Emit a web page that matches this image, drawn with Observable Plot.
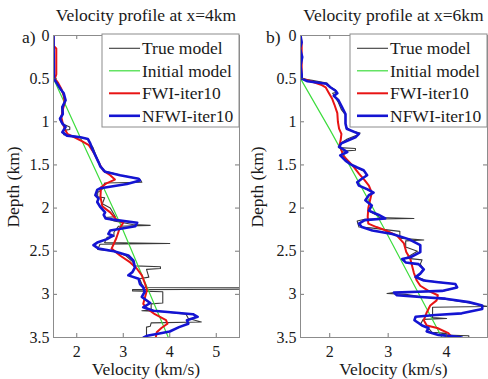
<!DOCTYPE html>
<html><head><meta charset="utf-8">
<script src="https://cdn.jsdelivr.net/npm/d3@7"></script>
<script src="https://cdn.jsdelivr.net/npm/@observablehq/plot@0.6"></script>
<style>
body{margin:0;background:#fff;}
#wrap{position:relative;width:488px;height:379px;background:#fff;}
#wrap svg{position:absolute;top:0;}
#wrap svg text{font-family:"Liberation Serif","DejaVu Serif",serif !important;}
</style></head><body><div id="wrap"></div>
<script>
// ---- data: [depth (km), velocity (km/s)] ----
const seriesNames = ["True model", "Initial model", "FWI-iter10", "NFWI-iter10"];
const seriesColors = ["#3a3a3a", "#3ddc3d", "#e81414", "#1414d2"];
const seriesWidths = [1.1, 1.2, 2, 2.6];

const depthTicks = [0, 0.5, 1, 1.5, 2, 2.5, 3, 3.5];
const velTicksA = [2, 3, 4, 5];
const velTicksB = [2, 3, 4];

// panel a) x = 4 km
const trueA = [[0,1.5],[0.5,1.5],[0.55,1.58],[0.62,1.65],[0.68,1.72],[0.75,1.76],[0.83,1.68],[0.92,1.68],[0.97,1.63],[1.02,1.68],[1.06,1.85],[1.09,1.85],[1.1,1.72],[1.15,1.72],[1.17,2.0],[1.2,2.25],[1.26,2.3],[1.3,2.35],[1.37,2.4],[1.45,2.46],[1.52,2.52],[1.57,2.6],[1.62,2.95],[1.66,3.35],[1.70,3.4],[1.71,2.6],[1.78,2.55],[1.82,2.45],[1.87,2.45],[1.88,2.6],[1.95,2.55],[2.0,2.72],[2.1,2.83],[2.11,2.6],[2.15,2.8],[2.19,3.2],[2.2,3.58],[2.21,2.9],[2.28,2.8],[2.33,2.8],[2.34,2.65],[2.4,2.6],[2.41,4.0],[2.42,2.5],[2.48,2.45],[2.5,2.8],[2.55,3.05],[2.62,3.2],[2.67,3.25],[2.68,3.8],[2.70,3.8],[2.71,3.5],[2.8,3.55],[2.82,3.35],[2.88,3.4],[2.92,3.45],[2.925,6],[2.94,6],[2.945,3.2],[2.96,3.2],[2.97,3.85],[3.1,3.85],[3.11,3.6],[3.18,3.6],[3.19,3.4],[3.2,3.85],[3.23,4.35],[3.28,4.4],[3.32,4.68],[3.33,3.6],[3.37,3.58],[3.38,3.5],[3.5,3.5]];
const initA = [[0,1.5],[0.5,1.5],[1.15,2.05],[2.2,2.95],[3.5,3.97]];
const fwiA = [[0,1.5],[0.12,1.5],[0.15,1.56],[0.45,1.56],[0.5,1.53],[0.55,1.6],[0.62,1.67],[0.7,1.72],[0.78,1.74],[0.86,1.7],[0.95,1.67],[1.02,1.7],[1.08,1.74],[1.14,1.8],[1.18,1.95],[1.22,2.1],[1.27,2.26],[1.37,2.38],[1.5,2.5],[1.57,2.58],[1.62,2.72],[1.67,2.82],[1.71,2.65],[1.76,2.52],[1.87,2.51],[1.98,2.55],[2.05,2.72],[2.13,2.85],[2.17,3.0],[2.24,2.92],[2.35,2.85],[2.47,2.75],[2.55,2.93],[2.63,3.15],[2.70,3.29],[2.78,3.40],[2.88,3.47],[2.95,3.51],[3.03,3.47],[3.11,3.43],[3.16,3.5],[3.23,3.68],[3.30,3.92],[3.34,3.95],[3.39,3.82],[3.44,3.72],[3.5,3.7]];
const nfwiA = [[0,1.5],[0.5,1.51],[0.56,1.58],[0.62,1.65],[0.67,1.72],[0.75,1.76],[0.83,1.69],[0.91,1.7],[0.965,1.64],[1.02,1.69],[1.06,1.76],[1.12,1.69],[1.16,1.79],[1.18,2.08],[1.20,2.24],[1.25,2.29],[1.31,2.33],[1.39,2.40],[1.47,2.47],[1.52,2.51],[1.58,2.61],[1.62,2.93],[1.66,3.33],[1.68,3.36],[1.72,3.08],[1.77,2.51],[1.79,2.44],[1.85,2.40],[1.89,2.47],[1.93,2.44],[1.99,2.51],[2.05,2.61],[2.08,2.58],[2.12,2.62],[2.14,2.86],[2.17,3.30],[2.21,3.26],[2.26,2.72],[2.30,2.68],[2.32,2.78],[2.36,2.65],[2.40,2.44],[2.43,2.36],[2.47,2.47],[2.50,2.8],[2.55,3.11],[2.61,3.22],[2.69,3.25],[2.74,3.2],[2.78,3.11],[2.82,3.33],[2.88,3.36],[2.92,3.43],[2.97,3.46],[3.03,3.4],[3.10,3.58],[3.15,3.43],[3.19,3.65],[3.21,4.08],[3.23,4.5],[3.26,4.6],[3.30,4.37],[3.34,4.40],[3.38,4.2],[3.43,4.0],[3.46,3.72],[3.48,3.51],[3.5,3.44]];

// panel b) x = 6 km
const trueB = [[0,1.5],[0.5,1.5],[0.52,1.7],[0.55,1.95],[0.6,2.02],[0.63,2.1],[0.66,2.1],[0.67,2.05],[0.72,2.1],[0.78,2.15],[0.86,2.2],[0.92,2.27],[1.05,2.27],[1.1,2.35],[1.13,2.52],[1.16,2.45],[1.2,2.3],[1.26,2.16],[1.3,2.16],[1.31,2.44],[1.33,2.44],[1.34,2.22],[1.4,2.2],[1.46,2.28],[1.5,2.38],[1.54,2.48],[1.58,2.6],[1.62,2.64],[1.66,2.55],[1.70,2.47],[1.74,2.5],[1.79,2.65],[1.82,2.75],[1.85,2.68],[1.91,2.61],[1.97,2.72],[2.03,2.66],[2.08,2.8],[2.11,2.85],[2.12,3.44],[2.13,2.6],[2.15,2.47],[2.22,2.5],[2.23,2.7],[2.27,3.2],[2.35,3.2],[2.36,3.4],[2.37,3.61],[2.38,3.3],[2.45,3.3],[2.5,3.5],[2.58,3.3],[2.6,3.58],[2.65,3.55],[2.7,3.6],[2.76,3.55],[2.8,3.5],[2.84,3.65],[2.86,3.9],[2.88,4.15],[2.92,4.18],[2.96,3.95],[2.98,3.1],[2.99,2.98],[3.0,3.3],[3.03,3.6],[3.06,4.0],[3.1,4.4],[3.13,4.6],[3.14,4.72],[3.15,3.76],[3.27,3.76],[3.28,4.0],[3.29,3.6],[3.35,3.55],[3.4,3.7],[3.44,3.75],[3.45,4.0],[3.47,3.85],[3.48,4.38],[3.5,4.38]];
const initB = [[0,1.5],[0.5,1.5],[1.1,2.01],[2.26,2.95],[3.5,3.92]];
const fwiB = [[0,1.5],[0.1,1.52],[0.45,1.52],[0.5,1.53],[0.53,1.68],[0.57,1.85],[0.6,1.93],[0.66,1.98],[0.73,2.04],[0.8,2.08],[0.9,2.13],[1.0,2.14],[1.08,2.16],[1.14,2.2],[1.2,2.19],[1.27,2.17],[1.33,2.2],[1.4,2.24],[1.47,2.34],[1.53,2.42],[1.6,2.5],[1.68,2.6],[1.74,2.67],[1.82,2.72],[1.91,2.69],[2.0,2.66],[2.1,2.65],[2.18,2.66],[2.22,2.8],[2.26,2.96],[2.32,3.15],[2.41,3.27],[2.51,3.31],[2.59,3.38],[2.67,3.41],[2.75,3.44],[2.84,3.49],[2.90,3.55],[2.96,3.69],[3.01,3.85],[3.07,3.83],[3.13,3.72],[3.21,3.66],[3.3,3.61],[3.36,3.66],[3.39,3.84],[3.45,4.03],[3.5,4.09]];
const nfwiB = [[0,1.5],[0.08,1.52],[0.15,1.49],[0.25,1.53],[0.35,1.5],[0.45,1.52],[0.5,1.52],[0.53,1.62],[0.56,1.94],[0.6,2.01],[0.64,2.1],[0.67,2.13],[0.7,2.07],[0.75,2.15],[0.83,2.21],[0.91,2.27],[1.02,2.27],[1.08,2.29],[1.14,2.5],[1.18,2.44],[1.25,2.2],[1.29,2.16],[1.31,2.21],[1.35,2.3],[1.39,2.18],[1.45,2.27],[1.49,2.35],[1.53,2.47],[1.56,2.58],[1.62,2.64],[1.66,2.55],[1.70,2.47],[1.74,2.5],[1.78,2.64],[1.82,2.75],[1.85,2.67],[1.91,2.61],[1.97,2.72],[2.03,2.67],[2.08,2.84],[2.12,2.95],[2.14,2.6],[2.18,2.5],[2.22,2.55],[2.26,2.73],[2.30,3.07],[2.36,3.35],[2.43,3.55],[2.51,3.55],[2.57,3.38],[2.59,3.24],[2.63,3.3],[2.65,3.52],[2.71,3.61],[2.76,3.55],[2.80,3.47],[2.84,3.61],[2.86,3.86],[2.88,4.15],[2.92,4.18],[2.96,3.92],[2.97,3.5],[2.98,3.1],[3.01,3.15],[3.03,3.55],[3.05,3.98],[3.09,4.38],[3.13,4.61],[3.17,4.61],[3.22,4.26],[3.24,3.81],[3.26,3.47],[3.30,3.45],[3.36,3.58],[3.39,3.69],[3.43,3.66],[3.47,3.86],[3.49,4.15],[3.5,4.26]];

const FONT = "Liberation Serif";
const H = 379, MT = 35, MB = 42;

function panel({left, width, mL, mR, xDomain, xTicks, title, tag, series}) {
  const innerW = width - mL - mR, innerH = H - MT - MB;
  const rows = arr => arr.map(([d, v]) => ({depth: d, vel: v}));
  const tk = {stroke: "#555", strokeWidth: 0.8};
  const svg = Plot.plot({
    width, height: H, marginLeft: mL, marginRight: mR, marginTop: MT, marginBottom: MB,
    x: {domain: xDomain},
    y: {domain: [0, 3.5], reverse: true},
    style: {fontFamily: FONT, fontSize: "16px", color: "#1a1a1a", background: "white", overflow: "visible"},
    marks: [
      ...series.map((s, i) => Plot.line(rows(s), {x: "vel", y: "depth", stroke: seriesColors[i], strokeWidth: seriesWidths[i], clip: true})),
      Plot.tickY(depthTicks, {y: d => d, insetRight: innerW - 4, ...tk}),
      Plot.tickY(depthTicks, {y: d => d, insetLeft: innerW - 4, ...tk}),
      Plot.tickX(xTicks, {x: d => d, insetTop: innerH - 4, ...tk}),
      Plot.tickX(xTicks, {x: d => d, insetBottom: innerH - 4, ...tk}),
      Plot.frame({stroke: "#8c8c8c", strokeWidth: 1}),
      Plot.axisX({ticks: xTicks, tickSize: 0, tickPadding: 8, label: null, tickFormat: d => String(d)}),
      Plot.axisY({ticks: depthTicks, tickSize: 0, tickPadding: 4, label: null, tickFormat: d => String(d)})
    ]
  });
  svg.style.left = left + "px";
  const g = d3.select(svg).append("g").attr("fill", "#1a1a1a");
  const cx = mL + innerW / 2;
  const txt = (x, y, s, anchor) => g.append("text").attr("x", x).attr("y", y)
    .attr("text-anchor", anchor).attr("font-size", 17.5).text(s);
  txt(cx, 21, title, "middle");
  txt(22, 43, tag, "start");
  txt(cx, 375, "Velocity (km/s)", "middle");
  g.append("text").attr("transform", `translate(19,187) rotate(-90)`).attr("text-anchor", "middle").attr("font-size", 17.5).text("Depth (km)");
  // legend
  const bx = width - mR - 137, by = 34;
  const lg = g.append("g");
  lg.append("rect").attr("x", bx).attr("y", by).attr("width", 137).attr("height", 93).attr("fill", "white").attr("stroke", "#8c8c8c");
  seriesNames.forEach((n, i) => {
    const yy = by + 14.3 + i * 22.5;
    lg.append("line").attr("x1", bx + 7).attr("x2", bx + 38).attr("y1", yy).attr("y2", yy)
      .attr("stroke", seriesColors[i]).attr("stroke-width", seriesWidths[i]);
    lg.append("text").attr("x", bx + 40).attr("y", yy + 6).attr("text-anchor", "start").attr("font-size", 17.5).text(n);
  });
  return svg;
}

const wrap = document.getElementById("wrap");
wrap.appendChild(panel({left: 0, width: 244, mL: 53, mR: 5, xDomain: [1.5, 5.5], xTicks: velTicksA,
  title: "Velocity profile at x=4km", tag: "a)", series: [trueA, initA, fwiA, nfwiA]}));
wrap.appendChild(panel({left: 244, width: 244, mL: 56, mR: 1, xDomain: [1.5, 4.7], xTicks: velTicksB,
  title: "Velocity profile at x=6km", tag: "b)", series: [trueB, initB, fwiB, nfwiB]}));
</script></body></html>
